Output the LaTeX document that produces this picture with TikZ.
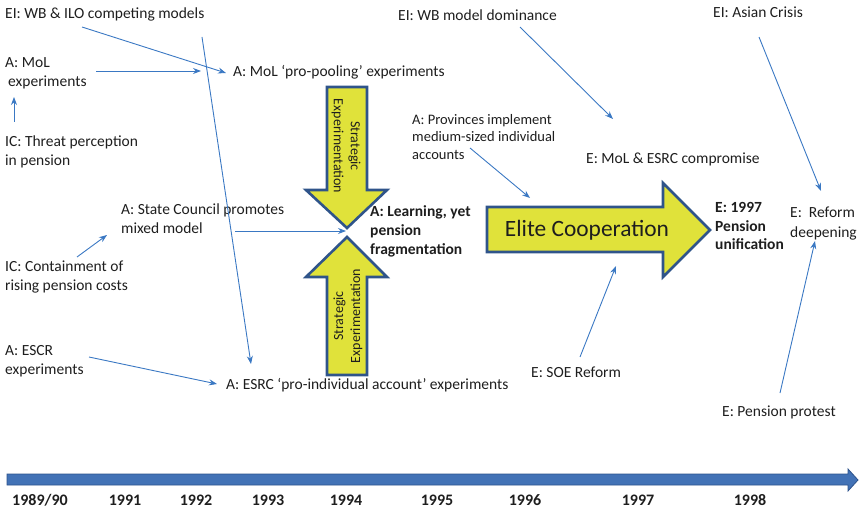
\documentclass[tikz,border=0pt]{standalone}
\usepackage{fontspec}
\setmainfont{Carlito}
\usetikzlibrary{arrows.meta}
\definecolor{conncol}{RGB}{58,120,195}
\definecolor{yelfill}{RGB}{224,226,58}
\definecolor{yelborder}{RGB}{47,84,138}
\definecolor{tlfill}{RGB}{66,114,182}
\definecolor{tlborder}{RGB}{45,83,140}
\definecolor{txt}{RGB}{30,30,30}
\tikzset{
  lbl/.style={anchor=west, inner sep=0pt, align=left, text=txt,
    font=\fontsize{15.5}{19.5}\selectfont},
  lblb/.style={lbl, font=\fontsize{15.5}{18.8}\bfseries\selectfont},
  conn/.style={draw=conncol, line width=0.9pt, -{Stealth[length=8pt,width=6pt]}},
  bigarrow/.style={fill=yelfill, draw=yelborder, line width=2.6pt, line join=miter},
  rottext/.style={inner sep=0pt, align=center, text=txt,
    font=\fontsize{14}{17}\selectfont},
  yearlbl/.style={inner sep=0pt, text=txt, font=\fontsize{16}{18}\bfseries\selectfont}
}
\begin{document}
\begin{tikzpicture}[x=1pt,y=-1pt]
\useasboundingbox (0,0) rectangle (862,508);

% big yellow arrows
\draw[bigarrow] (327,87) -- (367,87) -- (367,190) -- (387,190) -- (347,228) -- (306,190) -- (327,190) -- cycle;
\draw[bigarrow] (347,237) -- (387,277) -- (367,277) -- (367,375) -- (327,375) -- (327,277) -- (306,277) -- cycle;
\draw[bigarrow] (487,207) -- (663,207) -- (663,183) -- (710,230) -- (663,277) -- (663,252) -- (487,252) -- cycle;
\node[rottext, rotate=-90] (sedown) at (346,146) {Strategic\\Experimentation};
\node[rottext, rotate=90] (seup) at (348,316) {Strategic\\Experimentation};
\node[inner sep=0pt, text=txt, font=\fontsize{23.4}{26}\selectfont] (elite) at (587,230) {Elite Cooperation};

% timeline
\draw[fill=tlfill, draw=tlborder, line width=0.8pt, line join=miter]
  (7,474) -- (848,474) -- (848,469) -- (858,480) -- (848,491) -- (848,485) -- (7,485) -- cycle;
\foreach \yr/\xx in {{1989/90}/40,1991/125,1992/196,1993/268,1994/346,1995/437,1996/525,1997/638,1998/750}{
  \node[yearlbl] (y\xx) at (\xx,500) {\yr};
}

% text nodes
\node[lbl] (wbilo) at (5,14) {EI: WB \& ILO competing models};
\node[lbl] (mol) at (5,73.5) {A: MoL\\\hspace{3pt}experiments};
\node[lbl] (threat) at (5,152) {IC: Threat perception\\in pension};
\node[lbl] (propool) at (233,72) {A: MoL ‘pro-pooling’ experiments};
\node[lbl] (state) at (121,218.5) {A: State Council promotes\\mixed model};
\node[lbl] (contain) at (5,277) {IC: Containment of\\rising pension costs};
\node[lbl] (escr) at (5,361) {A: ESCR\\experiments};
\node[lbl] (esrc) at (226,385) {A: ESRC ‘pro-individual account’ experiments};
\node[lblb] (learn) at (370,231.5) {A: Learning, yet\\pension\\fragmentation};
\node[lbl] (wbdom) at (398,15) {EI: WB model dominance};
\node[lbl, font=\fontsize{14.5}{17.5}\selectfont] (prov) at (412,137) {A: Provinces implement\\medium-sized individual\\accounts};
\node[lbl] (comp) at (586,159) {E: MoL \& ESRC compromise};
\node[lbl] (soe) at (531,372) {E: SOE Reform};
\node[lblb] (unif) at (715,226) {E: 1997\\Pension\\unification};
\node[lbl] (deep) at (790,223.5) {E:\ \ Reform\\deepening};
\node[lbl] (asian) at (713,12) {EI: Asian Crisis};
\node[lbl] (protest) at (722,412) {E: Pension protest};

% connector end points
\coordinate (c1a) at (14,122);  \coordinate (c1b) at (14,97);
\coordinate (c2a) at (96,71);   \coordinate (c2b) at (201,71);
\coordinate (c3a) at (82,27);   \coordinate (c3b) at (226,73);
\coordinate (c4a) at (202,37);  \coordinate (c4b) at (251,364);
\coordinate (c5a) at (77,257);  \coordinate (c5b) at (107,235);
\coordinate (c6a) at (235,231); \coordinate (c6b) at (346,231);
\coordinate (c7a) at (89,357);  \coordinate (c7b) at (217,384);
\coordinate (c8a) at (520,27);  \coordinate (c8b) at (613,119);
\coordinate (c9a) at (470,148); \coordinate (c9b) at (530,198);
\coordinate (c10a) at (580,357); \coordinate (c10b) at (616,266);
\coordinate (c11a) at (759,37); \coordinate (c11b) at (821,191);
\coordinate (c12a) at (780,393); \coordinate (c12b) at (815,241);

\draw[conn] (c1a) -- (c1b);
\draw[conn] (c2a) -- (c2b);
\draw[conn] (c3a) -- (c3b);
\draw[conn] (c4a) -- (c4b);
\draw[conn] (c5a) -- (c5b);
\draw[conn] (c6a) -- (c6b);
\draw[conn] (c7a) -- (c7b);
\draw[conn] (c8a) -- (c8b);
\draw[conn] (c9a) -- (c9b);
\draw[conn] (c10a) -- (c10b);
\draw[conn] (c11a) -- (c11b);
\draw[conn] (c12a) -- (c12b);
\end{tikzpicture}
\end{document}
